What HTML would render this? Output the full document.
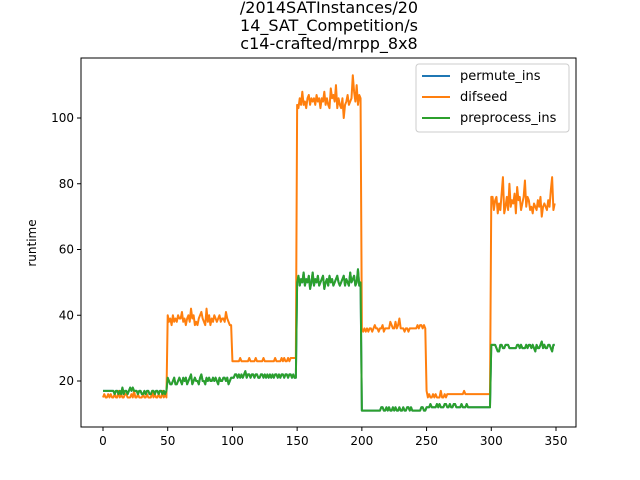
<!DOCTYPE html>
<html><head><meta charset="utf-8"><style>
body{margin:0;background:#fff}
svg{display:block;font-family:"DejaVu Sans","Liberation Sans",sans-serif}
</style></head><body>
<svg id="chart" width="640" height="480" viewBox="0 0 640 480" xmlns="http://www.w3.org/2000/svg">
<rect width="640" height="480" fill="#fff"/>
<g font-size="16" text-anchor="middle" fill="#000">
<text x="329" y="13">/2014SATInstances/20</text>
<text x="329" y="31">14_SAT_Competition/s</text>
<text x="329" y="49">c14-crafted/mrpp_8x8</text>
</g>
<g id="plot"></g>
<rect x="81" y="58" width="495" height="369" fill="none" stroke="#000" stroke-width="1"/>
<g id="xaxis" font-size="12" text-anchor="middle"></g>
<g id="yaxis" font-size="12" text-anchor="end"></g>
<text x="36" y="243" font-size="12" text-anchor="middle" transform="rotate(-90 36 243)">runtime</text>
<g>
<rect x="416" y="64" width="153" height="68" rx="3" fill="#fff" fill-opacity="0.8" stroke="#ccc"/>
<g><line x1="422" y1="76" x2="450" y2="76" stroke="#1f77b4" stroke-width="2"/><text x="460" y="80" font-size="13">permute_ins</text></g>
<g><line x1="422" y1="97" x2="450" y2="97" stroke="#ff7f0e" stroke-width="2"/><text x="460" y="101" font-size="13">difseed</text></g>
<g><line x1="422" y1="118" x2="450" y2="118" stroke="#2ca02c" stroke-width="2"/><text x="460" y="122" font-size="13">preprocess_ins</text></g>
</g>
</svg>
<script>
const xTicks=[0,50,100,150,200,250,300,350];
const yTicks=[20,40,60,80,100];
const difseed=[
15,16,15,15,16,15,16,15,15,16,15,15,17,15,16,15,15,16,16,15,15,15,16,15,17,15,15,16,15,15,15,16,15,15,16,15,15,15,17,15,16,15,15,16,15,15,17,15,16,15,
40,38,39,37,40,38,39,38,40,39,39,41,38,39,37,39,40,38,42,39,40,37,38,37,39,40,41,39,38,37,42,38,40,37,39,38,40,39,38,39,40,38,39,39,38,41,39,38,37,37,
26,26,26,26,26,26,27,26,26,26,26,26,26,27,26,26,26,26,27,26,26,26,26,26,27,26,26,26,26,26,26,26,26,27,26,26,26,26,27,26,27,26,26,27,26,27,27,27,27,27,
104,103,106,104,108,104,105,103,106,107,104,106,105,106,104,107,105,106,103,106,105,108,104,106,104,103,109,106,107,105,110,103,106,104,103,106,100,104,105,107,104,105,106,113,108,105,110,104,107,106,
36,35,36,35,36,35,36,36,35,36,37,36,36,35,36,36,37,35,36,36,36,36,38,37,36,36,38,36,37,39,36,36,36,35,36,36,35,36,36,36,36,36,36,37,36,37,37,36,37,36,
17,15,16,15,15,16,15,16,15,15,15,17,15,15,16,15,16,16,16,16,16,16,16,16,16,16,16,16,16,17,16,16,16,16,16,16,16,16,16,16,16,16,16,16,16,16,16,16,16,16,
76,76,72,75,76,71,74,72,77,82,71,73,76,72,80,73,75,74,77,71,79,75,76,72,74,76,81,73,76,75,72,73,71,74,73,72,75,73,76,70,73,74,73,72,75,73,78,82,72,74
];
const preprocess=[
17,17,17,17,17,17,17,17,17,16,17,17,16,17,16,18,16,17,17,16,17,18,17,18,17,17,17,16,17,17,16,16,17,16,17,17,16,16,17,17,16,17,17,16,17,17,16,17,16,17,
21,20,19,19,20,21,19,19,20,21,20,19,21,20,21,19,20,21,22,19,20,21,20,20,19,21,22,20,20,19,21,20,21,20,20,21,20,21,20,19,21,20,20,21,21,20,21,19,20,21,
21,21,22,22,21,22,21,22,21,22,23,21,22,22,21,22,22,21,22,22,21,21,22,22,21,22,21,22,21,22,21,22,21,22,22,21,22,21,22,22,21,22,22,21,22,22,21,22,21,21,
50,52,49,51,50,53,49,51,50,52,48,50,53,49,51,50,52,49,50,51,52,48,50,51,49,52,50,51,49,50,51,52,50,49,50,51,52,49,51,50,49,53,50,51,52,49,50,54,49,50,
11,11,11,11,11,11,11,11,11,11,11,11,11,11,11,12,12,11,11,12,11,12,11,11,12,11,12,11,11,12,11,11,12,11,11,12,12,11,12,11,11,11,11,11,11,11,12,12,11,11,
12,12,12,13,12,12,12,12,13,12,13,12,12,12,13,13,12,12,13,12,12,13,13,12,12,12,12,13,12,12,12,13,12,12,12,12,12,12,12,12,12,12,12,12,12,12,12,12,12,12,
31,31,31,31,30,29,29,31,31,30,30,31,31,31,30,30,30,30,30,30,31,31,30,31,30,30,30,31,30,31,31,30,31,30,29,31,30,30,31,32,30,31,30,30,31,31,30,29,31,31
];
const permute=preprocess.slice();
const X0=81,X1=576,Y0=58,Y1=427;
const xs=v=>103+(v-0)*(453/350);
const ys=v=>381-(v-20)*(263/80);
const NS="http://www.w3.org/2000/svg";
const plot=document.getElementById('plot');
function addLine(arr,color,name){
  const p=document.createElementNS(NS,'polyline');
  p.setAttribute('points',arr.map((v,i)=>xs(i).toFixed(2)+','+ys(v).toFixed(2)).join(' '));
  p.setAttribute('fill','none');p.setAttribute('stroke',color);p.setAttribute('stroke-width','2');
  p.setAttribute('stroke-linejoin','round');
  
  
  plot.appendChild(p);
}
addLine(permute,'#1f77b4','series-permute-ins');
addLine(difseed,'#ff7f0e','series-difseed');
addLine(preprocess,'#2ca02c','series-preprocess-ins');
const xa=document.getElementById('xaxis');
xTicks.forEach(t=>{
  const g=document.createElementNS(NS,'g');
  
  
  const x=xs(t);
  g.innerHTML=`<line x1="${x}" y1="${Y1}" x2="${x}" y2="${Y1+4}" stroke="#000"/><text x="${x}" y="${Y1+18}">${t}</text>`;
  xa.appendChild(g);
});
const ya=document.getElementById('yaxis');
yTicks.forEach(t=>{
  const g=document.createElementNS(NS,'g');
  
  
  const y=ys(t);
  g.innerHTML=`<line x1="${X0-4}" y1="${y}" x2="${X0}" y2="${y}" stroke="#000"/><text x="${X0-7}" y="${y+4}">${t}</text>`;
  ya.appendChild(g);
});
</script>
</body></html>
